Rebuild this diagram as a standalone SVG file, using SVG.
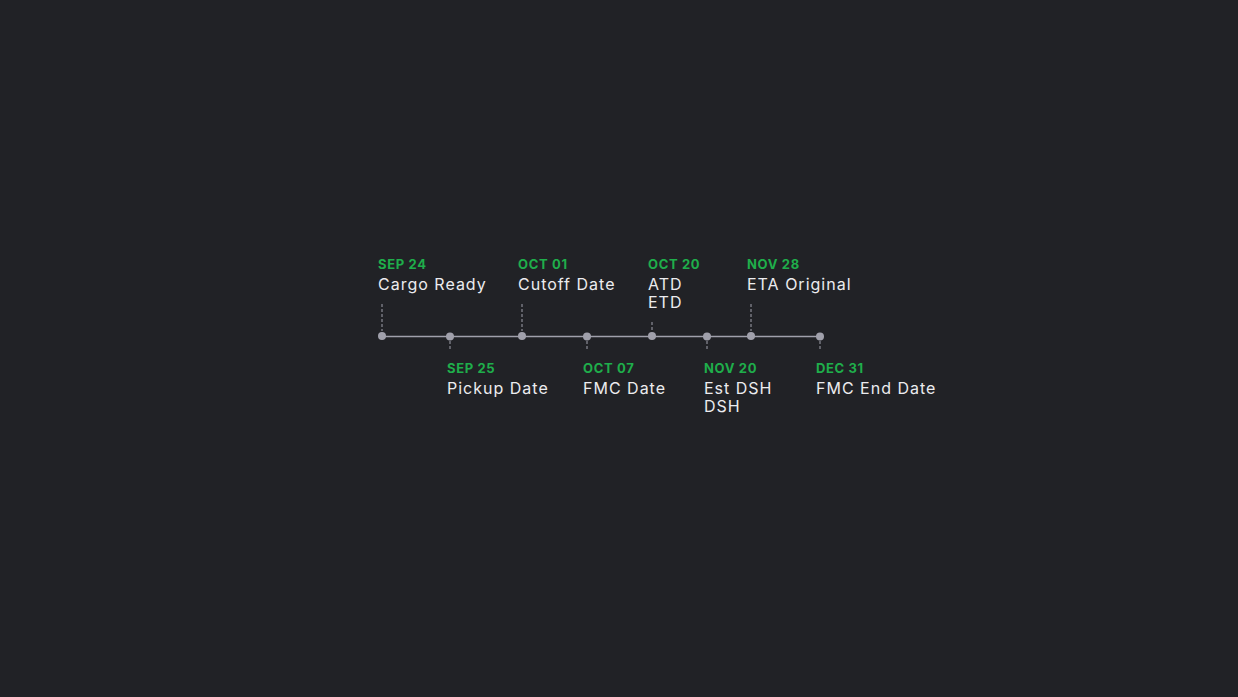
<svg xmlns="http://www.w3.org/2000/svg" width="1238" height="697" viewBox="0 0 1238 697">
<style>
.d{font-family:Inter,"Noto Sans",sans-serif;font-weight:700;font-size:13px;fill:#1fae4b;letter-spacing:0.65px}
.l{font-family:Inter,"Noto Sans",sans-serif;font-size:16px;fill:#ececef;letter-spacing:1px}
.dash{stroke:#a0a0ab;stroke-width:1;stroke-dasharray:3 2;fill:none}
.dot{fill:#a0a0ab}
</style>
<rect width="1238" height="697" fill="#212226"/>
<g id="connectors">
<line x1="382" y1="336.5" x2="820" y2="336.5" stroke="#a0a0ab" stroke-width="1.5"/>
<line class="dash" x1="382" y1="304" x2="382" y2="331"/>
<line class="dash" x1="450" y1="341" x2="450" y2="351"/>
<line class="dash" x1="522" y1="304" x2="522" y2="331"/>
<line class="dash" x1="587" y1="341" x2="587" y2="351"/>
<line class="dash" x1="652" y1="322" x2="652" y2="331"/>
<line class="dash" x1="707" y1="341" x2="707" y2="351"/>
<line class="dash" x1="751" y1="304" x2="751" y2="331"/>
<line class="dash" x1="820" y1="341" x2="820" y2="351"/>
</g>
<g id="n1"><circle class="dot" cx="382" cy="336" r="4"/><text class="d" x="378" y="269">SEP 24</text><text class="l" x="378" y="290">Cargo Ready</text></g>
<g id="n2"><circle class="dot" cx="450" cy="336.5" r="4"/><text class="d" x="447" y="373">SEP 25</text><text class="l" x="447" y="394">Pickup Date</text></g>
<g id="n3"><circle class="dot" cx="522" cy="336" r="4"/><text class="d" x="518" y="269">OCT 01</text><text class="l" x="518" y="290">Cutoff Date</text></g>
<g id="n4"><circle class="dot" cx="587" cy="336.5" r="4"/><text class="d" x="583" y="373">OCT 07</text><text class="l" x="583" y="394">FMC Date</text></g>
<g id="n5"><circle class="dot" cx="652" cy="336" r="4"/><text class="d" x="648" y="269">OCT 20</text><text class="l" x="648" y="290">ATD</text><text class="l" x="648" y="308">ETD</text></g>
<g id="n6"><circle class="dot" cx="707" cy="336.5" r="4"/><text class="d" x="704" y="373">NOV 20</text><text class="l" x="704" y="394">Est DSH</text><text class="l" x="704" y="412">DSH</text></g>
<g id="n7"><circle class="dot" cx="751" cy="336" r="4"/><text class="d" x="747" y="269">NOV 28</text><text class="l" x="747" y="290">ETA Original</text></g>
<g id="n8"><circle class="dot" cx="820" cy="336.5" r="4"/><text class="d" x="816" y="373">DEC 31</text><text class="l" x="816" y="394">FMC End Date</text></g>
</svg>
